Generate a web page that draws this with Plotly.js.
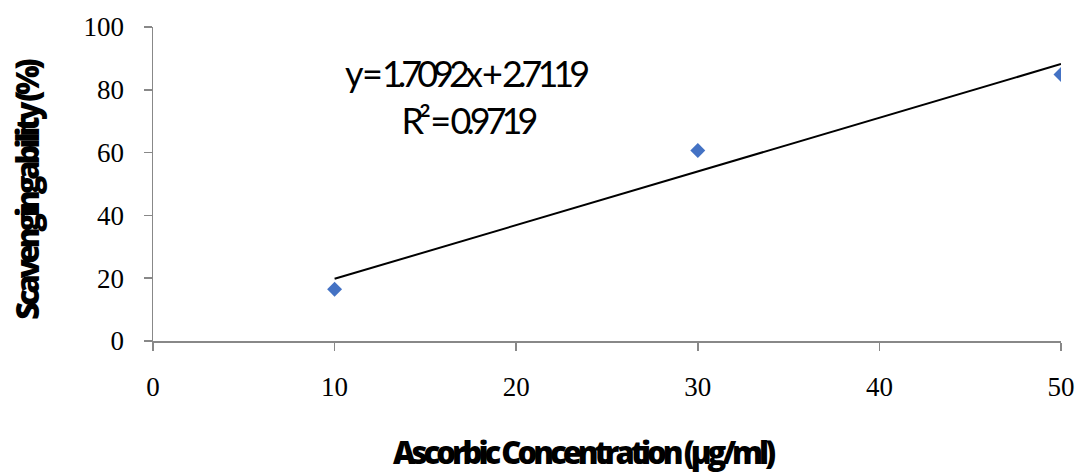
<!DOCTYPE html>
<html>
<head>
<meta charset="utf-8">
<script src="https://cdn.plot.ly/plotly-3.0.1.min.js"></script>
<style>
html, body { margin: 0; padding: 0; background: #fff; }
#chart { width: 1083px; height: 474px; }
</style>
</head>
<body>
<div id="chart"></div>
<script>
// Data
const concentrations = [10, 30, 50];
const scavenging = [16.45, 60.7, 84.85];
const trendX = [10, 50];
const trendY = [19.8, 88.2];
const xTicks = [0, 10, 20, 30, 40, 50];
const yTicks = [0, 20, 40, 60, 80, 100];
const equationText = "y = 1.7092x + 2.7119";
const r2Text = "R² = 0.9719";
const xTitle = "Ascorbic Concentration (µg/ml)";
const yTitle = "Scavengingability (%)";

const traces = [
  {
    x: trendX, y: trendY, mode: 'lines', type: 'scatter',
    line: { color: '#000000', width: 2 }, hoverinfo: 'skip', showlegend: false
  },
  {
    x: concentrations, y: scavenging, mode: 'markers', type: 'scatter',
    marker: { symbol: 'diamond', size: 11.5, color: '#4472C4', line: { width: 0 } },
    showlegend: false
  }
];

const tickFont = { family: 'Liberation Serif, Times New Roman, serif', size: 27, color: '#000' };
const eqFont = { family: 'Lato, sans-serif', size: 36, color: '#000' };
const titleFont = { family: 'Open Sans, sans-serif', size: 31, color: '#000', weight: 800 };

const layout = {
  width: 1083, height: 474,
  margin: { l: 153, r: 22, t: 27, b: 133 },
  paper_bgcolor: '#fff', plot_bgcolor: '#fff',
  showlegend: false,
  xaxis: {
    range: [0, 50], tickvals: xTicks, ticktext: xTicks.map(String),
    showgrid: false, zeroline: false,
    showline: true, linecolor: '#888888', linewidth: 1.5,
    ticks: 'outside', ticklen: 8, tickcolor: '#888888', tickwidth: 1.5,
    tickfont: tickFont, ticklabelstandoff: 13
  },
  yaxis: {
    range: [0, 100], tickvals: yTicks, ticktext: yTicks.map(String),
    showgrid: false, zeroline: false,
    showline: true, linecolor: '#888888', linewidth: 1.5,
    ticks: 'outside', ticklen: 8, tickcolor: '#888888', tickwidth: 1.5,
    tickfont: tickFont, ticklabelstandoff: 14
  },
  annotations: [
    { text: equationText, xref: 'paper', yref: 'paper', x: 0.3436, y: 0.853,
      xanchor: 'center', yanchor: 'middle', showarrow: false, font: eqFont },
    { text: r2Text, xref: 'paper', yref: 'paper', x: 0.3464, y: 0.703,
      xanchor: 'center', yanchor: 'middle', showarrow: false, font: eqFont },
    { text: xTitle, xref: 'paper', yref: 'paper', x: 0.4725, y: -0.3535,
      xanchor: 'center', yanchor: 'middle', showarrow: false, font: titleFont },
    { text: yTitle, xref: 'paper', yref: 'paper', x: -0.1388, y: 0.478,
      xanchor: 'center', yanchor: 'middle', showarrow: false, textangle: -90, font: titleFont }
  ]
};

Plotly.newPlot('chart', traces, layout, { displayModeBar: false, staticPlot: true }).then(function () {
  const anns = document.querySelectorAll('.annotation-text');
  if (anns[0]) anns[0].style.letterSpacing = '-5px';
  if (anns[1]) anns[1].style.letterSpacing = '-5px';
  if (anns[2]) anns[2].style.letterSpacing = '-4px';
  if (anns[3]) anns[3].style.letterSpacing = '-4.1px';
});
</script>
</body>
</html>
